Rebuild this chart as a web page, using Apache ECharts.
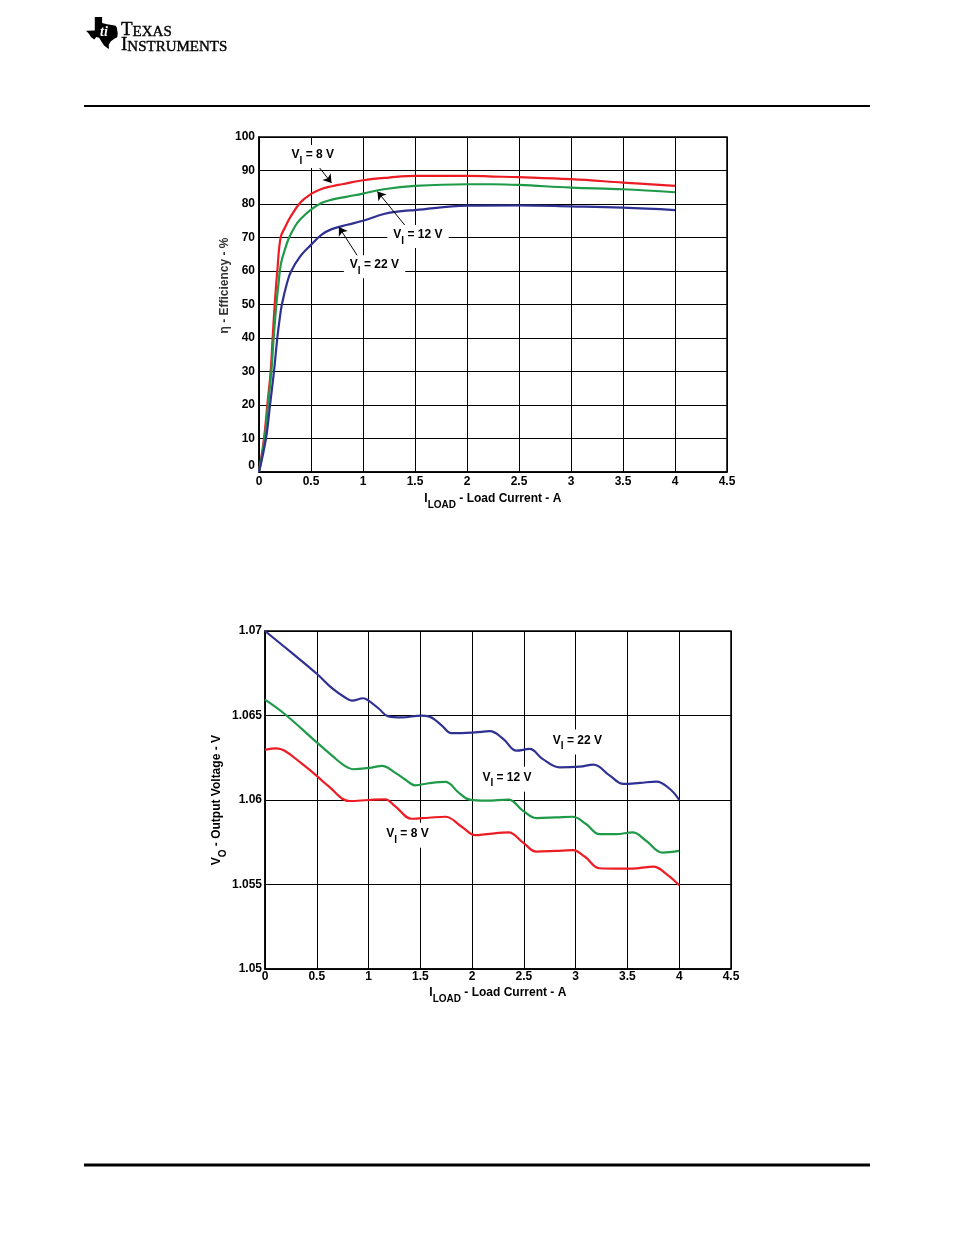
<!DOCTYPE html>
<html>
<head>
<meta charset="utf-8">
<title>Efficiency and Output Voltage vs Load Current</title>
<script src="https://cdn.jsdelivr.net/npm/echarts@6/dist/echarts.min.js"></script>
<style>
    html, body { margin: 0; padding: 0; background: #fff; }
    #page { width: 954px; height: 1235px; }
</style>
</head>
<body>
<div id="page"></div>
<script>
// ---- efficiency (top plot), load current in A, efficiency in % ----
const effLoad8 = [0, 0.048, 0.08, 0.112, 0.131, 0.151, 0.176, 0.208, 0.25, 0.3, 0.4, 0.5, 0.6, 0.7, 0.8, 1.0, 1.25, 1.5, 1.75, 2.0, 2.25, 2.5, 3.0, 3.5, 4.0];
const effValue8 = [0, 10, 20, 30, 40, 50, 60, 70, 73, 76, 80.5, 83, 84.5, 85.3, 85.9, 87.1, 87.9, 88.4, 88.4, 88.4, 88.2, 88.0, 87.4, 86.4, 85.4];

const effLoad12 = [0, 0.054, 0.087, 0.119, 0.141, 0.167, 0.19, 0.21, 0.25, 0.29, 0.35, 0.4, 0.5, 0.6, 0.7, 0.85, 1.0, 1.2, 1.5, 2.0, 2.25, 2.5, 3.0, 3.5, 4.0];
const effValue12 = [0, 10, 20, 30, 40, 50, 57, 62, 66.5, 70, 73.5, 75.5, 78.3, 80.3, 81.3, 82.2, 83.1, 84.4, 85.4, 85.9, 85.9, 85.7, 84.9, 84.4, 83.5];

const effLoad22 = [0, 0.067, 0.106, 0.144, 0.176, 0.2, 0.22, 0.27, 0.31, 0.4, 0.5, 0.6, 0.7, 0.85, 1.0, 1.2, 1.35, 1.5, 2.0, 2.5, 3.0, 3.5, 4.0];
const effValue22 = [0, 10, 20, 30, 40, 46, 50, 56.5, 60, 64.5, 67.8, 70.8, 72.5, 73.8, 75.0, 77, 77.8, 78.2, 79.5, 79.6, 79.3, 78.9, 78.2];

// ---- output voltage (bottom plot), load current in A, voltage in V ----
const voLoad22 = [0, 0.25, 0.5, 0.65, 0.77, 0.84, 0.95, 1.0, 1.1, 1.19, 1.32, 1.51, 1.58, 1.7, 1.8, 1.9, 2.03, 2.17, 2.3, 2.43, 2.555, 2.68, 2.845, 3.04, 3.17, 3.33, 3.46, 3.62, 3.78, 3.91, 4.0];
const voValue22 = [1.07, 1.06875, 1.06747, 1.0666, 1.06608, 1.06588, 1.06602, 1.06588, 1.0654, 1.06495, 1.06489, 1.06499, 1.06495, 1.06445, 1.06396, 1.06396, 1.064, 1.06407, 1.06362, 1.06292, 1.06302, 1.06243, 1.06193, 1.06197, 1.06209, 1.06144, 1.06095, 1.06101, 1.06109, 1.06065, 1.06];

const voLoad12 = [0, 0.19, 0.5, 0.65, 0.77, 0.85, 1.03, 1.13, 1.255, 1.35, 1.45, 1.58, 1.74, 1.87, 1.976, 2.14, 2.35, 2.49, 2.62, 2.81, 2.97, 3.1, 3.23, 3.39, 3.55, 3.68, 3.84, 4.0];
const voValue12 = [1.06594, 1.06509, 1.06341, 1.06261, 1.06202, 1.06182, 1.06192, 1.06202, 1.06162, 1.06123, 1.06087, 1.06099, 1.06107, 1.06044, 1.06002, 1.05996, 1.06002, 1.05937, 1.05893, 1.05897, 1.05901, 1.05858, 1.05798, 1.05798, 1.05808, 1.05759, 1.05689, 1.05699];

const voLoad8 = [0, 0.11, 0.19, 0.35, 0.5, 0.61, 0.82, 1.0, 1.16, 1.255, 1.42, 1.58, 1.74, 1.9, 2.03, 2.14, 2.35, 2.49, 2.62, 2.81, 2.97, 3.09, 3.23, 3.39, 3.59, 3.75, 3.88, 4.0];
const voValue8 = [1.06297, 1.06305, 1.06291, 1.06218, 1.06143, 1.06083, 1.05994, 1.06, 1.06004, 1.05964, 1.05889, 1.05895, 1.05901, 1.05842, 1.05792, 1.05798, 1.05808, 1.05749, 1.05695, 1.05699, 1.05703, 1.05664, 1.05596, 1.05594, 1.05596, 1.05606, 1.0556, 1.05495];

// axis ranges / ticks
const loadMin = 0, loadMax = 4.5, loadStep = 0.5;
const effMin = 0, effMax = 100, effStep = 10;
const voMin = 1.05, voMax = 1.07, voStep = 0.005;

// annotations: label anchor, arrow tail, arrow tip (data coordinates)
const effNotes = [
    { vin: '8', at: [0.519, 94.2], from: [0.577, 91.0], to: [0.697, 86.3] },
    { vin: '12', at: [1.529, 70.3], from: [1.433, 72.5], to: [1.139, 83.7] },
    { vin: '22', at: [1.111, 61.3], from: [0.966, 63.6], to: [0.769, 73.1] }
];
const voNotes = [
    { vin: '8', at: [1.377, 1.05791] },
    { vin: '12', at: [2.338, 1.06123] },
    { vin: '22', at: [3.018, 1.06343] }
];

const FONT = '"Liberation Sans", Arial, sans-serif';
const SERIF = '"Liberation Serif", "Times New Roman", serif';
const RED = '#ed1c24', GREEN = '#1f9a48', BLUE = '#2e3192';

const pairs = (xs, ys) => xs.map((x, i) => [x, ys[i]]);

// rich text styles for subscripts
const subRich = {
    v: { fontSize: 12, fontWeight: 'bold', fontFamily: FONT, color: '#000', lineHeight: 12, verticalAlign: 'top' },
    s: { fontSize: 10, fontWeight: 'bold', fontFamily: FONT, color: '#000', lineHeight: 10, verticalAlign: 'bottom' },
    gap: { fontSize: 1, lineHeight: 17 }
};
const vinText = (vin) => `{v|V}{s|I}{v| = ${vin} V}{gap| }`;

function noteMarks(note, withArrow, pad) {
    const marks = {
        markPoint: {
            silent: true,
            symbol: 'circle',
            symbolSize: 1,
            itemStyle: { color: 'rgba(0,0,0,0)' },
            label: {
                show: true,
                position: 'inside',
                formatter: () => vinText(note.vin),
                rich: subRich,
                backgroundColor: '#fff',
                padding: pad
            },
            data: [{ coord: note.at }]
        }
    };
    if (withArrow) {
        marks.markLine = {
            silent: true,
            symbol: ['none', 'arrow'],
            symbolSize: 8,
            lineStyle: { color: '#000', width: 1, type: 'solid' },
            label: { show: false },
            data: [[{ coord: note.from }, { coord: note.to }]]
        };
    }
    return marks;
}

function lineSeries(name, color, axisIdx, data, marks) {
    return Object.assign({
        name,
        type: 'line',
        xAxisIndex: axisIdx,
        yAxisIndex: axisIdx,
        data,
        showSymbol: false,
        smooth: 0.4,
        lineStyle: { color, width: 2.2 },
        itemStyle: { color },
        z: 3
    }, marks);
}

const tickLabel = { color: '#000', fontFamily: FONT, fontWeight: 'bold', fontSize: 12 };
const gridLine = { show: true, lineStyle: { color: '#000', width: 1 } };
const axisLine = { show: true, lineStyle: { color: '#000', width: 1.5 } };
const loadName = '{v|I}{s|LOAD}{v| - Load Current - A}{gap| }';

function loadAxis(gridIndex, nameGap, labelMargin) {
    return {
        type: 'value',
        gridIndex,
        min: loadMin,
        max: loadMax,
        interval: loadStep,
        name: loadName,
        nameLocation: 'middle',
        nameGap,
        nameTextStyle: { rich: subRich },
        axisLine,
        axisTick: { show: false },
        axisLabel: Object.assign({ margin: labelMargin }, tickLabel),
        splitLine: gridLine
    };
}

// TI logo outline (normalised 0..1, drawn into a square box)
const texasShape = [
    [0.275, 0], [0.504, 0], [0.504, 0.187], [0.656, 0.224], [0.809, 0.252], [0.924, 0.271],
    [0.962, 0.327], [0.992, 0.514], [0.977, 0.636], [0.885, 0.682], [0.771, 0.766], [0.71, 0.869],
    [0.718, 0.981], [0.695, 0.99], [0.565, 0.888], [0.481, 0.766], [0.412, 0.645], [0.321, 0.626],
    [0.26, 0.701], [0.16, 0.636], [0.084, 0.514], [0, 0.43], [0.275, 0.421]
];
const logoX = 86, logoY = 17, logoSize = 32;
const logoRich = {
    b: { fontFamily: SERIF, fontSize: 19, fill: '#000', stroke: '#000', lineWidth: 0.4, verticalAlign: 'bottom' },
    s: { fontFamily: SERIF, fontSize: 15, fill: '#000', stroke: '#000', lineWidth: 0.4, verticalAlign: 'bottom' }
};

const chart = echarts.init(document.getElementById('page'), null, { renderer: 'canvas' });

const option = {
    backgroundColor: '#fff',
    animation: false,
    grid: [
        { left: 259, top: 137, width: 468, height: 335, show: true, borderColor: '#000', borderWidth: 1.5 },
        { left: 265, top: 631, width: 466, height: 338, show: true, borderColor: '#000', borderWidth: 1.5 }
    ],
    xAxis: [loadAxis(0, 21, 4), loadAxis(1, 18, 2)],
    yAxis: [
        {
            type: 'value',
            gridIndex: 0,
            min: effMin,
            max: effMax,
            interval: effStep,
            name: '\u03b7 - Efficiency - %',
            nameLocation: 'middle',
            nameGap: 28,
            nameTextStyle: { color: '#333', fontFamily: FONT, fontWeight: 'bold', fontSize: 12, padding: [0, 0, 0, 38] },
            axisLine,
            axisTick: { show: false },
            axisLabel: Object.assign({ margin: 4, verticalAlignMinLabel: 'bottom' }, tickLabel),
            splitLine: gridLine
        },
        {
            type: 'value',
            gridIndex: 1,
            min: voMin,
            max: voMax,
            interval: voStep,
            name: '{v|V}{s|O}{v| - Output Voltage - V}{gap| }',
            nameLocation: 'middle',
            nameGap: 30,
            nameTextStyle: { rich: subRich },
            axisLine,
            axisTick: { show: false },
            axisLabel: Object.assign({
                margin: 3,
                formatter: (v) => String(parseFloat(v.toFixed(3)))
            }, tickLabel),
            splitLine: gridLine
        }
    ],
    series: [
        lineSeries('VI = 8 V', RED, 0, pairs(effLoad8, effValue8), noteMarks(effNotes[0], true, [4, 6, 2, 6])),
        lineSeries('VI = 12 V', GREEN, 0, pairs(effLoad12, effValue12), noteMarks(effNotes[1], true, [4, 6, 2, 6])),
        lineSeries('VI = 22 V', BLUE, 0, pairs(effLoad22, effValue22), noteMarks(effNotes[2], true, [4, 6, 2, 6])),
        lineSeries('VI = 8 V', RED, 1, pairs(voLoad8, voValue8), noteMarks(voNotes[0], false, [5, 6, 3, 6])),
        lineSeries('VI = 12 V', GREEN, 1, pairs(voLoad12, voValue12), noteMarks(voNotes[1], false, [5, 6, 3, 6])),
        lineSeries('VI = 22 V', BLUE, 1, pairs(voLoad22, voValue22), noteMarks(voNotes[2], false, [5, 6, 3, 6]))
    ],
    graphic: [
        // page rules
        { type: 'line', shape: { x1: 84, y1: 106, x2: 870, y2: 106 }, style: { stroke: '#000', lineWidth: 2 } },
        { type: 'line', shape: { x1: 84, y1: 1165, x2: 870, y2: 1165 }, style: { stroke: '#000', lineWidth: 3 } },
        // logo
        {
            type: 'polygon',
            shape: { points: texasShape.map(([px, py]) => [logoX + px * logoSize, logoY + py * logoSize]) },
            style: { fill: '#000' }
        },
        {
            type: 'text',
            x: logoX + 0.56 * logoSize,
            y: logoY + 0.47 * logoSize,
            style: { text: 'ti', font: 'italic bold 14px ' + SERIF, fill: '#fff', align: 'center', verticalAlign: 'middle' }
        },
        { type: 'text', x: 121, y: 21, style: { text: '{b|T}{s|EXAS}', rich: logoRich } },
        { type: 'text', x: 121, y: 36, style: { text: '{b|I}{s|NSTRUMENTS}', rich: logoRich } }
    ]
};

chart.setOption(option);
window.addEventListener('resize', () => chart?.resize());
</script>
</body>
</html>
